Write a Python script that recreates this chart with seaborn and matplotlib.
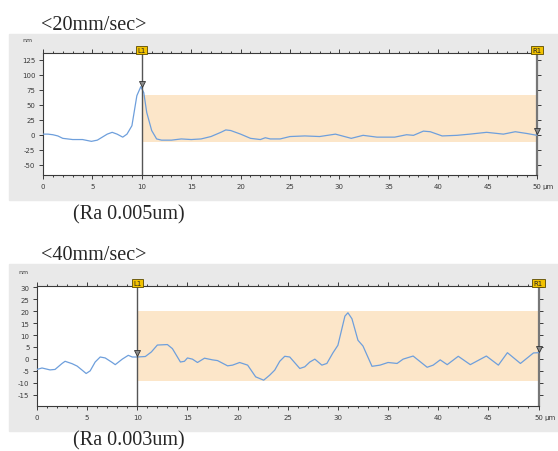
import numpy as np
import pandas as pd
import matplotlib
matplotlib.use("Agg")
import matplotlib.pyplot as plt
import seaborn as sns
from matplotlib.patches import Rectangle
from matplotlib.ticker import MultipleLocator
from matplotlib.transforms import offset_copy

# profile at 20 mm/sec (x in um, height in nm)
x20 = [0, 0.5, 1, 1.5, 2, 3, 4, 4.9, 5.5, 6, 6.5, 7, 7.5, 8.07, 8.5, 9, 9.5, 9.9,
       10.2, 10.5, 11, 11.5, 12, 13, 14, 15, 16, 17, 18, 18.5, 19, 20, 21, 22, 22.5,
       23, 24, 25, 26.5, 28, 29.6, 31.2, 32.4, 33.8, 35.6, 36.8, 37.5, 38.5, 39.2,
       40.4, 41.9, 43.2, 44.9, 46.6, 47.8, 49, 50]
y20 = [1, 1, 0, -2, -6, -8, -8, -11, -9, -4, 1, 4, 1, -4, 1, 15, 65, 80,
       70, 37, 7, -7, -9, -9, -7, -8, -7, -3, 4, 8, 7, 1, -6, -8, -5,
       -7, -7, -3, -2, -3, 1, -6, -1, -4, -4, 0, -1, 6, 5,
       -2, -1, 1, 4, 1, 5, 2, -1]

# profile at 40 mm/sec
x40 = [0, 0.5, 1.3, 1.8, 2.5, 2.8, 3.5, 4.0, 4.5, 4.9, 5.3, 5.8, 6.3, 6.8, 7.5, 7.8,
       8.5, 9.1, 9.5, 10, 10.8, 11.4, 12.0, 13, 13.5, 14.0, 14.3, 14.7, 15.0, 15.5,
       16.0, 16.7, 17.5, 18.0, 19.0, 19.5, 20.2, 21, 21.8, 22.6, 23.2, 23.7, 24.2,
       24.7, 25.2, 26.2, 26.7, 27.2, 27.7, 28.4, 28.9, 29.5, 30.0, 30.7, 31.0, 31.4,
       32.0, 32.5, 33.4, 34.2, 35.0, 35.9, 36.5, 37.5, 38.9, 39.5, 40.2, 40.9, 42.0,
       43.2, 44.8, 46.0, 46.9, 48.2, 49.5, 50]
y40 = [-4.4, -3.8, -4.6, -4.4, -1.9, -1, -2, -3, -4.7, -6.1, -5, -1.3, 0.8, 0.4, -1.5, -2.4,
       -0.1, 1.5, 0.8, 0.8, 1, 2.9, 5.8, 6, 4.3, 0.8, -1.3, -1, 0.4, -0.1,
       -1.5, 0.3, -0.4, -0.7, -2.9, -2.6, -1.5, -2.6, -7.5, -8.9, -6.8, -4.7, -1,
       1.1, 0.8, -4, -3.3, -1.3, -0.1, -2.6, -1.9, 2.5, 5.7, 17.9, 19.3, 16.8,
       7.8, 5.4, -3.1, -2.6, -1.5, -1.9, -0.1, 1.2, -3.5, -2.6, -0.4, -2.4, 1.1,
       -2.4, 1.2, -2.6, 2.6, -1.9, 2.5, 2.6]

titles = ["<20mm/sec>", "<40mm/sec>"]
ra_labels = ["(Ra 0.005um)", "(Ra 0.003um)"]
bands = [(-11.7, 65.7), (-9.4, 20.2)]
ylims = [(-67, 136), (-19.7, 30.5)]
yticks = [list(range(-50, 126, 25)), list(range(-15, 31, 5))]

plt.rcParams["axes.unicode_minus"] = False
sns.set_style("white")

W, H = 558, 452
fig = plt.figure(figsize=(W / 100, H / 100), dpi=100)

def fx(px):
    return px / W

def fy(py):
    return 1 - py / H

# panel geometry in pixels: gray box (top, bottom), axes (left, right, top, bottom)
panels = [
    dict(gray=(35, 201), ax=(43, 537, 54, 176), title_y=26, ra_y=215, nm=(27, 40)),
    dict(gray=(265, 432), ax=(37, 538.5, 287, 407), title_y=256, ra_y=441, nm=(23, 273)),
]

line_col = "#6e9fdc"
band_col = "#fce6c9"
gray_col = "#e9e9e9"
dark = "#3a3a3a"

profiles = [(x20, y20), (x40, y40)]

for i, p in enumerate(panels):
    g0, g1 = p["gray"]
    fig.patches.append(Rectangle((fx(9), fy(g1)), fx(W - 9), (g1 - g0) / H,
                                 transform=fig.transFigure, color=gray_col, zorder=-5))
    l, r, t, b = p["ax"]
    ax = fig.add_axes([fx(l), fy(b), fx(r - l), (b - t) / H])
    ax.set_facecolor("white")

    xs, ys = profiles[i]
    df = pd.DataFrame({"x": xs, "y": ys})
    ax.axhspan(bands[i][0], bands[i][1], xmin=0.2, xmax=1.0, color=band_col, lw=0, zorder=0)
    sns.lineplot(data=df, x="x", y="y", ax=ax, color=line_col, lw=0.9, zorder=3)

    ax.set_xlim(0, 50)
    ax.set_ylim(*ylims[i])
    ax.set_xlabel("")
    ax.set_ylabel("")
    ax.xaxis.set_major_locator(MultipleLocator(5))
    ax.xaxis.set_minor_locator(MultipleLocator(1))
    ax.set_yticks(yticks[i])
    ax.set_xticks(range(0, 51, 5))
    ax.set_xticklabels([str(v) for v in range(0, 51, 5)])

    ax.tick_params(which="both", direction="out", colors=dark, labelsize=5, width=0.7)
    ax.tick_params(which="major", length=3, pad=2.5)
    ax.tick_params(which="minor", length=1.5)
    ax.tick_params(axis="x", which="both", top=True, bottom=True)
    ax.tick_params(axis="y", which="both", left=True, right=True)

    for s in ["left", "bottom", "top"]:
        ax.spines[s].set_color(dark)
        ax.spines[s].set_linewidth(0.8)
    ax.spines["right"].set_color("#777777")
    ax.spines["right"].set_linewidth(1.6)

    # cursor L1
    ax.axvline(10, color="#555555", lw=1.0, zorder=4)

    # cursor markers
    off = offset_copy(ax.transData, fig=fig, y=3, units="points")
    y10 = np.interp(10, xs, ys)
    y50 = np.interp(50, xs, ys)
    ax.plot([10, 50], [y10, y50], "v", transform=off, ms=5, mfc="#8a8a8a",
            mec="#333333", mew=0.6, zorder=6, clip_on=False)

    for xv, lab in [(10, "L1"), (50, "R1")]:
        ax.text(xv, 1.0, lab, transform=ax.get_xaxis_transform(), ha="center",
                va="bottom", fontsize=5, color="#222222", zorder=7,
                bbox=dict(boxstyle="square,pad=0.2", fc="#f2c200", ec="#5a4a00", lw=0.6))

    ax.annotate("µm", xy=(50, 0), xycoords=("data", "axes fraction"),
                xytext=(4, -5.5), textcoords="offset points", ha="left", va="top",
                fontsize=5, color=dark)

    fig.text(fx(p["nm"][0]), fy(p["nm"][1]), "nm", fontsize=4.5, color=dark,
             ha="center", va="center")
    fig.text(fx(41), fy(p["title_y"]), titles[i], family="Liberation Serif",
             fontsize=14.5, va="center", ha="left")
    fig.text(fx(73), fy(p["ra_y"]), ra_labels[i], family="Liberation Serif",
             fontsize=14.5, va="center", ha="left")

fig.savefig("out.png", dpi=100)
